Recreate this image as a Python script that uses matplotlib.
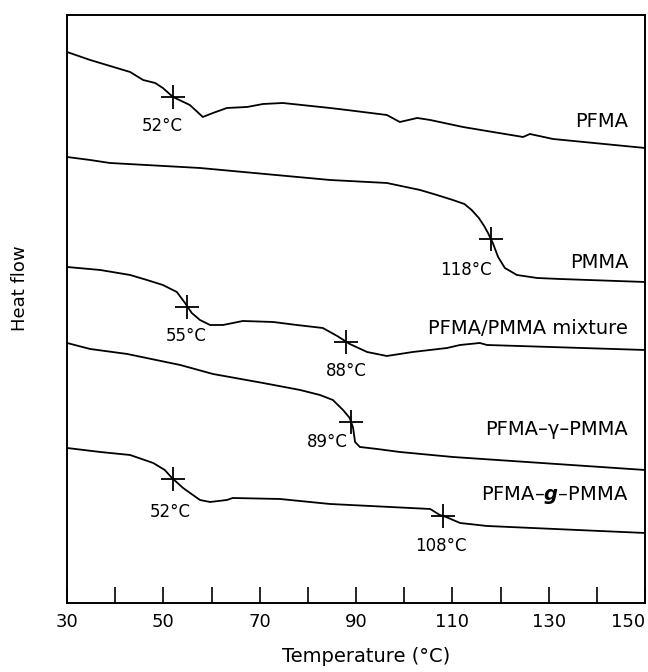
import numpy as np
import matplotlib
matplotlib.use('Agg')
import matplotlib.pyplot as plt

plt.rcParams['font.family'] = ['DejaVu Sans']
plt.rcParams['mathtext.fontset'] = 'dejavusans'

# DSC traces (temperature in C, heat flow in arbitrary units)
t_pfma = [30, 34.8, 43.1, 45.8, 48.3, 49.9, 52.0, 55.5, 58.2, 60.3, 63.2, 67.4,
          70.7, 74.8, 84.6, 88.1, 96.4, 99.1, 102.7, 105.4, 112.2, 118.4,
          124.7, 126.1, 130.9, 150.0]
h_pfma = [551, 543, 531, 523, 520, 515, 506, 498, 486, 490, 495, 496,
          499, 500, 495, 493, 488, 481, 485, 483, 476, 471,
          466, 469, 464, 455]

t_pmma = [30, 34.8, 38.9, 57.6, 84.6, 96.4, 103.3, 106.8, 110.1, 112.5, 114.0,
          115.5, 116.6, 117.4, 118.4, 119.5, 120.9, 123.4, 127.6, 132.3, 150.0]
h_pmma = [446, 443, 440, 435, 423, 420, 413, 408, 403, 399, 393,
          385, 377, 370, 360, 346, 335, 328, 325, 324, 321]

t_mix = [30, 36.9, 43.1, 46.6, 49.9, 52.8, 54.5, 55.9, 57.6, 59.7, 62.4, 66.5,
         72.8, 77.7, 83.1, 86.1, 88.7, 92.3, 96.4, 101.8, 108.9, 111.6,
         115.7, 117.2, 150.0]
h_mix = [336, 333, 328, 323, 318, 311, 300, 290, 283, 278, 278, 282,
         281, 278, 275, 267, 259, 251, 247, 251, 255, 258,
         260, 258, 253]

t_block = [30, 34.8, 42.5, 53.5, 60.3, 70.7, 78.4, 82.5, 85.2, 87.3, 88.7,
           89.4, 89.8, 90.8, 94.4, 99.1, 110.1, 150.0]
h_block = [260, 254, 249, 238, 229, 220, 213, 208, 203, 193, 185,
           175, 161, 156, 154, 151, 146, 133]

t_graft = [30, 36.9, 43.1, 47.9, 50.3, 51.8, 54.1, 57.6, 59.7, 63.2, 64.4,
           74.2, 84.6, 105.4, 107.4, 108.7, 111.6, 117.2, 150.0]
h_graft = [155, 151, 148, 140, 133, 125, 115, 103, 101, 103, 105,
           104, 99, 94, 88, 86, 80, 77, 70]

names = ['PFMA', 'PMMA', 'PFMA/PMMA mixture', 'PFMA\u2013\u03b3\u2013PMMA',
         'PFMA\u2013$\\boldsymbol{g}$\u2013PMMA']
name_y = [481, 340, 274, 173, 108]

# glass transitions marked on each trace
tg = [[52], [118], [55, 88], [89], [52, 108]]
# label offsets in points (dx, dy) relative to the cross
tg_off = [[(-8, -21)], [(-18, -22)], [(-1, -21), (0, -21)], [(-17, -14)],
          [(-2, -24), (-1, -22)]]

curves = [(t_pfma, h_pfma), (t_pmma, h_pmma), (t_mix, h_mix),
          (t_block, h_block), (t_graft, h_graft)]

fig = plt.figure(figsize=(6.48, 6.72), dpi=100)
ax = fig.add_axes([0.1034, 0.1027, 0.892, 0.875])

for i, (t, h) in enumerate(curves):
    ax.plot(t, h, color='black', lw=1.3)
    for T, off in zip(tg[i], tg_off[i]):
        y = np.interp(T, t, h)
        ax.plot(T, y, marker='+', ms=17, mew=1.3, color='black')
        ax.annotate(f'{T}\u00b0C', (T, y), xytext=off, textcoords='offset points',
                    ha='center', va='center', fontsize=12)
    ax.text(146.5, name_y[i], names[i], ha='right', va='center', fontsize=14)

ax.set_xlim(30, 150)
ax.set_ylim(0, 588)
xt = list(range(30, 151, 10))
ax.set_xticks(xt)
ax.set_xticklabels([str(v) if (v - 30) % 20 == 0 else '' for v in xt])
ax.tick_params(axis='x', direction='in', length=11.5, width=1.2, pad=7, labelsize=13)
ax.get_xticklabels()[-1].set_ha('right')
ax.set_yticks([])
for s in ax.spines.values():
    s.set_linewidth(1.4)

ax.set_xlabel('Temperature (\u00b0C)', fontsize=14)
ax.set_ylabel('Heat flow', fontsize=13)
ax.xaxis.set_label_coords(0.517, -0.075)
ax.yaxis.set_label_coords(-0.066, 0.536)

fig.savefig('out.png', dpi=100)
